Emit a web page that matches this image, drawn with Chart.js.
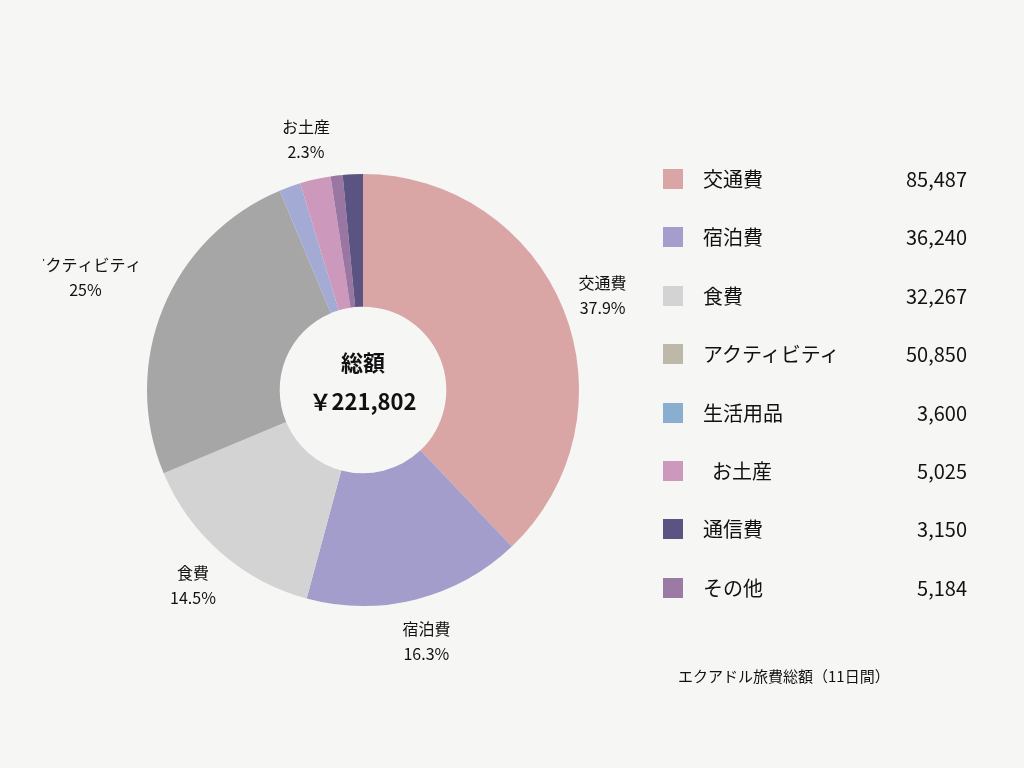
<!DOCTYPE html>
<html><head><meta charset="utf-8">
<script src="https://cdn.jsdelivr.net/npm/chart.js@4"></script>
<style>
  body { margin:0; width:1024px; height:768px; background:#f6f6f4; position:relative; overflow:hidden;
         font-family:"Noto Sans CJK JP","Noto Sans",sans-serif; color:#111; }
  #wrap { position:absolute; left:43px; top:110px; width:640px; height:560px; }
  .lg { position:absolute; left:663px; width:304px; height:30px; font-size:20px; line-height:30px; }
  .lg i { position:absolute; left:0; top:5px; width:20px; height:20px; }
  .lg span { position:absolute; left:40px; }
  .lg b { position:absolute; right:0; font-weight:normal; }
  #foot { position:absolute; left:678px; top:665px; font-size:15px; }
</style></head>
<body>
<div id="wrap"><canvas id="c"></canvas></div>
<div id="legend"></div>
<div id="foot">エクアドル旅費総額（11日間）</div>
<script>
// slices (percent)
const sliceNames = ['交通費', '宿泊費', '食費', 'アクティビティ', '生活用品', 'お土産', 'その他', '通信費'];
const slicePct = [37.9, 16.3, 14.5, 25, 1.6, 2.3, 0.9, 1.5];
const sliceColors = ['#d9a5a5', '#a39dcc', '#d3d3d3', '#a6a6a6', '#a3aad4', '#cc98bb', '#9a77a3', '#5b5482'];
const sliceLabels = ['交通費\n37.9%', '宿泊費\n16.3%', '食費\n14.5%', 'アクティビティ\n25%', '', 'お土産\n2.3%', '', ''];

// legend
const legendNames = ['交通費', '宿泊費', '食費', 'アクティビティ', '生活用品', '\u3000お土産'.replace('\u3000', ' '), '通信費', 'その他'];
const legendValues = ['85,487', '36,240', '32,267', '50,850', '3,600', '5,025', '3,150', '5,184'];
const legendColors = ['#d9a5a5', '#a59dcc', '#d3d3d3', '#bdb8a8', '#8aaecf', '#cc98bb', '#5b5482', '#9b7aa6'];
const totalText = '￥221,802';

const lg = document.getElementById('legend');
legendNames.forEach((n, i) => {
  const d = document.createElement('div');
  d.className = 'lg';
  d.style.top = (164 + i * 58.4) + 'px';
  d.innerHTML = `<i style="background:${legendColors[i]}"></i><span>${n === ' お土産' ? '&nbsp;&nbsp;お土産' : n}</span><b>${legendValues[i]}</b>`;
  lg.appendChild(d);
});

const labelPlugin = {
  id: 'outLabels',
  afterDraw(chart) {
    const ctx = chart.ctx;
    const arcs = chart.getDatasetMeta(0).data;
    ctx.save();
    ctx.font = '16px "Noto Sans CJK JP"';
    ctx.fillStyle = '#111';
    ctx.textAlign = 'center';
    ctx.textBaseline = 'middle';
    arcs.forEach((a, i) => {
      if (!sliceLabels[i]) return;
      const mid = (a.startAngle + a.endAngle) / 2;
      const r = i === 3 ? 300 : 258;
      const x = a.x + Math.cos(mid) * r, y = a.y + Math.sin(mid) * r;
      sliceLabels[i].split('\n').forEach((t, k) => ctx.fillText(t, x, y - 11 + k * 25));
    });
    // center
    const a0 = arcs[0];
    ctx.font = 'bold 22px "Noto Sans CJK JP"';
    ctx.fillText('総額', a0.x, a0.y - 27);
    ctx.fillText(totalText, a0.x, a0.y + 12);
    ctx.restore();
  }
};

new Chart(document.getElementById('c'), {
  type: 'doughnut',
  data: {
    labels: sliceNames,
    datasets: [{ data: slicePct, backgroundColor: sliceColors, borderWidth: 0, radius: 216, cutout: 108 }]
  },
  options: {
    responsive: true,
    maintainAspectRatio: false,
    animation: false,
    plugins: { legend: { display: false }, tooltip: { enabled: false } }
  },
  plugins: [labelPlugin]
});
</script>
</body></html>
